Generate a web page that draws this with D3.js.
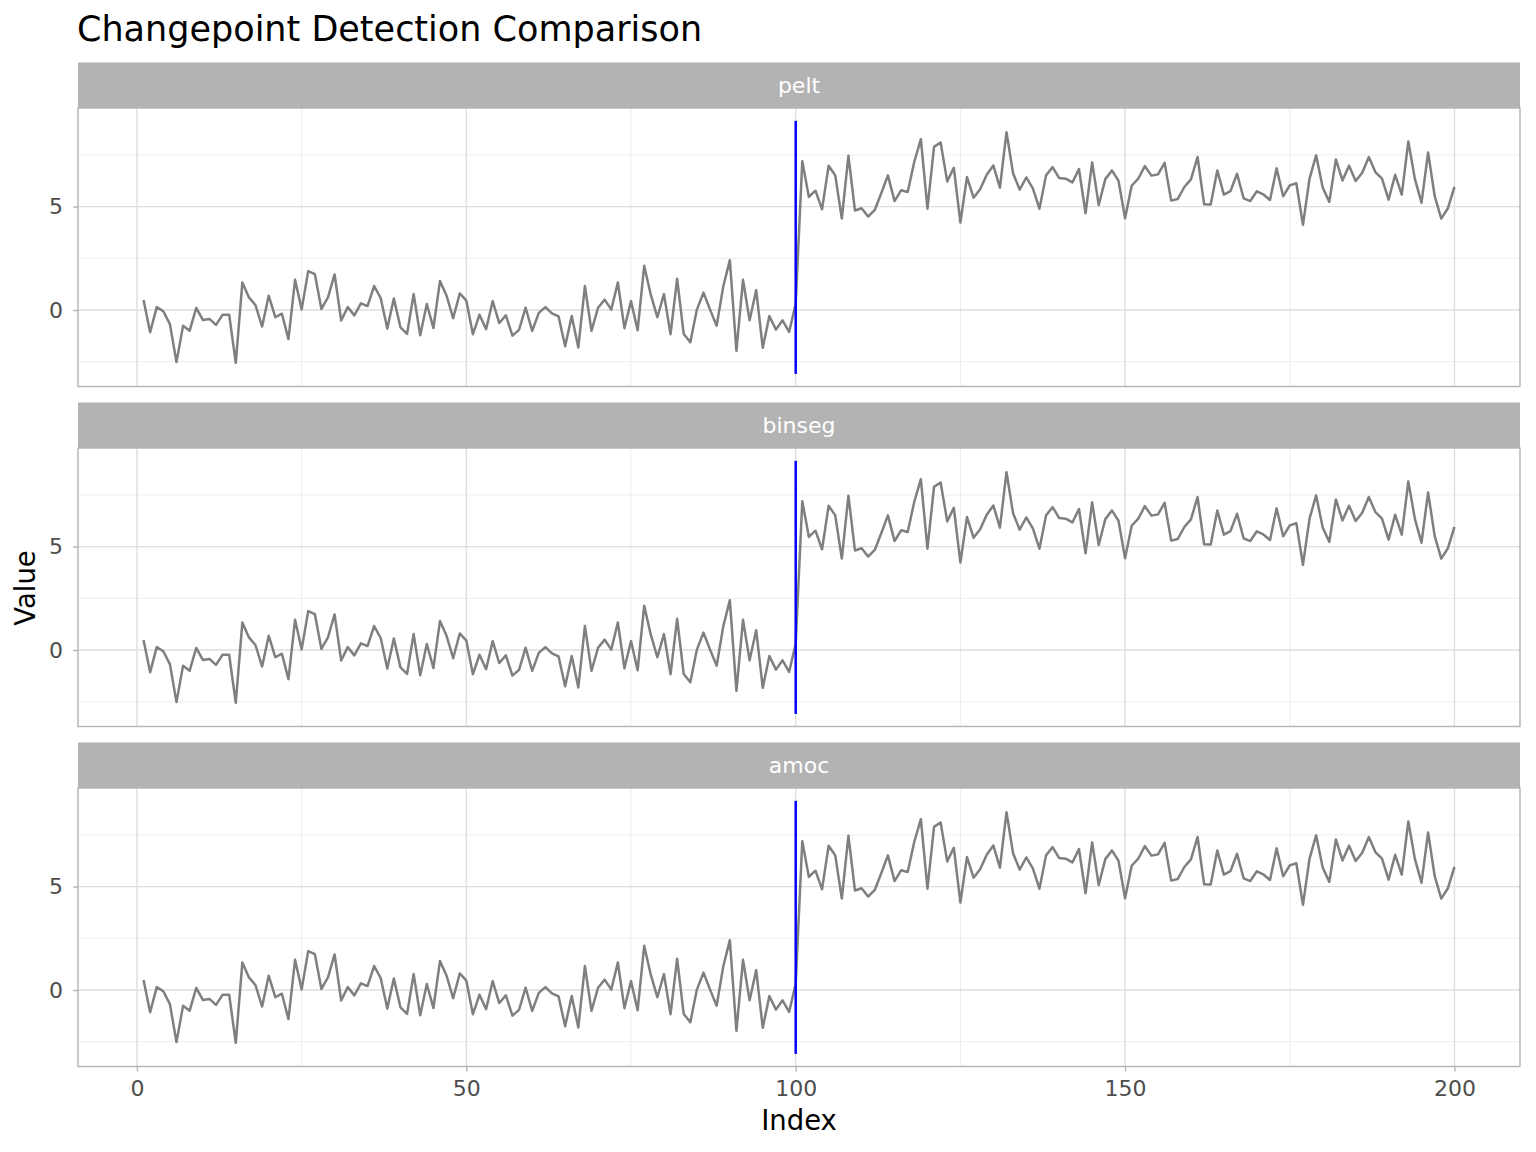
<!DOCTYPE html>
<html>
<head>
<meta charset="utf-8">
<script src="https://cdn.jsdelivr.net/npm/d3@7"></script>
<style>
  html, body { margin: 0; padding: 0; background: #ffffff; }
  svg { display: block; font-family: "DejaVu Sans", sans-serif; }
</style>
</head>
<body>
<svg id="chart" width="1536" height="1152"></svg>
<script>
// ---- data ----
const methods = ["pelt", "binseg", "amoc"];
const values = [
  0.48, -1.08, 0.14, -0.06, -0.68, -2.52, -0.76, -1.0, 0.1, -0.48,
  -0.43, -0.72, -0.23, -0.23, -2.56, 1.33, 0.61, 0.23, -0.8, 0.69,
  -0.35, -0.18, -1.41, 1.46, 0.03, 1.88, 1.74, 0.05, 0.61, 1.72,
  -0.51, 0.14, -0.26, 0.32, 0.19, 1.16, 0.58, -0.9, 0.56, -0.84,
  -1.16, 0.77, -1.22, 0.29, -0.87, 1.4, 0.69, -0.4, 0.8, 0.45,
  -1.17, -0.23, -0.93, 0.43, -0.63, -0.26, -1.24, -0.96, 0.11, -1.01,
  -0.14, 0.14, -0.16, -0.31, -1.75, -0.29, -1.81, 1.16, -1.01, 0.11,
  0.5, 0.02, 1.33, -0.88, 0.43, -0.98, 2.14, 0.74, -0.35, 0.77,
  -1.17, 1.51, -1.16, -1.56, 0.02, 0.84, 0.02, -0.76, 1.14, 2.41,
  -1.98, 1.46, -0.5, 0.96, -1.83, -0.29, -0.95, -0.5, -1.06, 0.3,
  7.2, 5.47, 5.77, 4.87, 6.98, 6.51, 4.42, 7.46, 4.81, 4.92,
  4.52, 4.84, 5.66, 6.51, 5.27, 5.79, 5.71, 7.17, 8.26, 4.9,
  7.89, 8.1, 6.22, 6.88, 4.23, 6.43, 5.43, 5.84, 6.54, 6.99,
  5.92, 8.6, 6.61, 5.82, 6.41, 5.88, 4.9, 6.51, 6.91, 6.38,
  6.35, 6.17, 6.82, 4.68, 7.14, 5.08, 6.33, 6.75, 6.25, 4.44,
  6.01, 6.35, 6.96, 6.5, 6.56, 7.12, 5.29, 5.37, 5.95, 6.32,
  7.4, 5.11, 5.1, 6.75, 5.58, 5.75, 6.59, 5.4, 5.27, 5.74,
  5.59, 5.32, 6.85, 5.5, 6.03, 6.13, 4.12, 6.35, 7.48, 5.93,
  5.23, 7.28, 6.27, 6.98, 6.24, 6.64, 7.4, 6.67, 6.35, 5.34,
  6.54, 5.58, 8.15, 6.33, 5.19, 7.62, 5.51, 4.42, 4.92, 5.96
];
const changepoint = 100;
const cptLow = -3.09;
const cptHigh = 9.15;
const xTicks = [0, 50, 100, 150, 200];
const xMinor = [25, 75, 125, 175];
const yTicks = [0, 5];
const yMinor = [-2.5, 2.5, 7.5];

// ---- layout ----
const svg = d3.select("#chart");
const panelLeft = 78, panelRight = 1520;
const panelTops = [108, 448, 788];
const panelH = 278.5;
const stripH = 45.5;

const x = d3.scaleLinear().domain([1 - 9.95, 200 + 9.95]).range([panelLeft, panelRight]);
const yDomain = [-3.7, 9.77];

svg.append("text")
  .attr("x", 77).attr("y", 41)
  .attr("font-size", 35).attr("fill", "#000")
  .text("Changepoint Detection Comparison");

methods.forEach((m, k) => {
  const top = panelTops[k];
  const y = d3.scaleLinear().domain(yDomain).range([top + panelH, top]);
  const g = svg.append("g");

  // strip
  g.append("rect")
    .attr("x", panelLeft).attr("y", top - stripH)
    .attr("width", panelRight - panelLeft).attr("height", stripH)
    .attr("fill", "#B3B3B3");
  g.append("text")
    .attr("x", (panelLeft + panelRight) / 2).attr("y", top - stripH / 2)
    .attr("dy", "0.36em").attr("text-anchor", "middle")
    .attr("font-size", 22).attr("fill", "#ffffff")
    .text(m);

  // minor grid
  g.selectAll(".xminor").data(xMinor).enter().append("line")
    .attr("x1", d => x(d)).attr("x2", d => x(d))
    .attr("y1", top).attr("y2", top + panelH)
    .attr("stroke", "#EDEDED").attr("stroke-width", 1);
  g.selectAll(".yminor").data(yMinor).enter().append("line")
    .attr("x1", panelLeft).attr("x2", panelRight)
    .attr("y1", d => y(d)).attr("y2", d => y(d))
    .attr("stroke", "#EDEDED").attr("stroke-width", 1);
  // major grid
  g.selectAll(".xmajor").data(xTicks).enter().append("line")
    .attr("x1", d => x(d)).attr("x2", d => x(d))
    .attr("y1", top).attr("y2", top + panelH)
    .attr("stroke", "#DEDEDE").attr("stroke-width", 1.4);
  g.selectAll(".ymajor").data(yTicks).enter().append("line")
    .attr("x1", panelLeft).attr("x2", panelRight)
    .attr("y1", d => y(d)).attr("y2", d => y(d))
    .attr("stroke", "#DEDEDE").attr("stroke-width", 1.4);

  // series line
  const line = d3.line().x((d, i) => x(i + 1)).y(d => y(d));
  g.append("path").datum(values)
    .attr("d", line).attr("fill", "none")
    .attr("stroke", "#7F7F7F").attr("stroke-width", 2.5)
    .attr("stroke-linejoin", "round");

  // changepoint segment
  g.append("line")
    .attr("x1", x(changepoint)).attr("x2", x(changepoint))
    .attr("y1", y(cptLow)).attr("y2", y(cptHigh))
    .attr("stroke", "#0000FF").attr("stroke-width", 2.5);

  // panel border
  g.append("rect")
    .attr("x", panelLeft).attr("y", top)
    .attr("width", panelRight - panelLeft).attr("height", panelH)
    .attr("fill", "none").attr("stroke", "#B3B3B3").attr("stroke-width", 1.4);

  // y axis
  const yAxis = d3.axisLeft(y).tickValues(yTicks).tickSize(5).tickPadding(10).tickFormat(d3.format("d"));
  const ya = svg.append("g").attr("transform", `translate(${panelLeft},0)`).call(yAxis);
  ya.select(".domain").remove();
  ya.selectAll(".tick line").attr("stroke", "#B3B3B3").attr("stroke-width", 1.4);
  ya.selectAll(".tick text").attr("font-size", 22).attr("fill", "#4D4D4D")
    .attr("font-family", "DejaVu Sans, sans-serif");

  if (k === methods.length - 1) {
    const xAxis = d3.axisBottom(x).tickValues(xTicks).tickSize(5).tickPadding(9).tickFormat(d3.format("d"));
    const xa = svg.append("g").attr("transform", `translate(0,${top + panelH})`).call(xAxis);
    xa.select(".domain").remove();
    xa.selectAll(".tick line").attr("stroke", "#B3B3B3").attr("stroke-width", 1.4);
    xa.selectAll(".tick text").attr("font-size", 22).attr("fill", "#4D4D4D")
      .attr("font-family", "DejaVu Sans, sans-serif");
  }
});

svg.append("text")
  .attr("x", (panelLeft + panelRight) / 2).attr("y", 1130)
  .attr("text-anchor", "middle").attr("font-size", 27.5).attr("fill", "#000")
  .text("Index");

svg.append("text")
  .attr("transform", "translate(35,588) rotate(-90)")
  .attr("text-anchor", "middle").attr("font-size", 27.5).attr("fill", "#000")
  .text("Value");
</script>
</body>
</html>
